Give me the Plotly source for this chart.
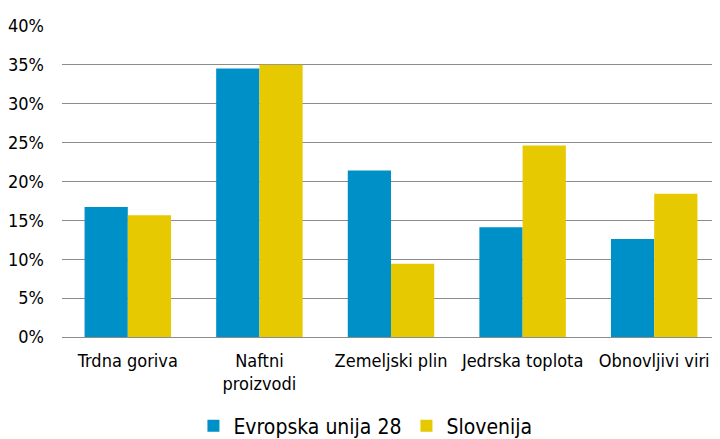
import plotly.graph_objects as go

categories = ["Trdna goriva", "Naftni<br>proizvodi", "Zemeljski plin", "Jedrska toplota", "Obnovljivi viri"]
eu28 = [16.7, 34.5, 21.4, 14.1, 12.6]
slovenija = [15.65, 35.0, 9.4, 24.6, 18.4]
tick_vals = [0, 5, 10, 15, 20, 25, 30, 35, 40]
tick_text = ["0%", "5%", "10%", "15%", "20%", "25%", "30%", "35%", "40%"]

FONT = "DejaVu Sans Condensed"

fig = go.Figure()
fig.add_trace(go.Bar(x=categories, y=eu28, name="Evropska unija 28", marker_color="#0090C8",
                     marker_line_width=0))
fig.add_trace(go.Bar(x=categories, y=slovenija, name="Slovenija", marker_color="#E6C900",
                     marker_line_width=0))

# page body has an 8px default margin, so the figure is offset by (8, 8)
fig.update_layout(
    width=712, height=431,
    margin=dict(l=54, r=0, t=17, b=102, autoexpand=False),
    paper_bgcolor="white", plot_bgcolor="white",
    barmode="group", bargap=0.343, bargroupgap=0,
    font=dict(family=FONT, size=18, color="#000000"),
    showlegend=True,
    legend=dict(orientation="h", xref="container", yref="container",
                x=0.502, y=0.03, xanchor="center", yanchor="middle",
                font=dict(size=21), itemwidth=30, tracegroupgap=0),
    yaxis=dict(range=[0, 40.1], tickvals=tick_vals, ticktext=tick_text,
               showgrid=True, gridcolor="#8C8C8C", gridwidth=1.3,
               zeroline=False, showline=False, ticks="", ticklabelstandoff=17,
               tickfont=dict(size=18), automargin=False),
    xaxis=dict(showline=True, linecolor="#8C8C8C", linewidth=1.3, ticks="",
               tickfont=dict(size=18), ticklabelstandoff=7, automargin=False),
)

fig.write_html("out.html")
